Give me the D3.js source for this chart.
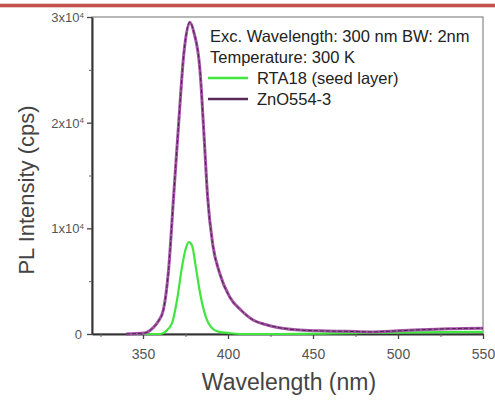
<!DOCTYPE html>
<html lang="en">
<head>
  <meta charset="UTF-8">
  <title>PL spectra</title>
  <script src="https://cdn.jsdelivr.net/npm/d3@7"></script>
  <style>
    body { margin: 0; background: #fff; }
    svg text { font-family: "Liberation Sans", Arial, sans-serif; }
  </style>
</head>
<body>
  <svg id="chart" width="495" height="400"></svg>
  <script>
    // wavelength (nm) and intensity (x10^4 cps)
    const znoWl  = [340, 351, 356, 359, 362, 365, 368, 371, 374, 377.5, 380, 383.5, 386, 388, 391, 395, 401, 408, 415, 422, 430, 440, 454, 470, 484, 500, 513, 530, 550];
    const znoVal = [0, 0.01, 0.06, 0.12, 0.23, 0.6, 1.3, 2.0, 2.65, 2.95, 2.85, 2.5, 1.85, 1.3, 0.85, 0.58, 0.35, 0.22, 0.13, 0.09, 0.06, 0.04, 0.03, 0.025, 0.02, 0.03, 0.04, 0.05, 0.055];
    const rtaWl  = [350, 360, 363, 367, 370, 373, 375, 377, 379, 381, 384, 387, 391, 395, 400, 407, 430, 480, 550];
    const rtaVal = [0, 0, 0.02, 0.1, 0.32, 0.64, 0.8, 0.87, 0.83, 0.64, 0.35, 0.16, 0.05, 0.02, 0.01, 0, 0, 0.01, 0.02];
    const xTicks = [350, 400, 450, 500, 550];
    const yTicks = [0, 1, 2, 3];
    const legendItems = [
      { label: "RTA18 (seed layer)", color: "#3ee63e" },
      { label: "ZnO554-3", color: "#5b2a5b" }
    ];
    const noteLines = ["Exc. Wavelength: 300 nm BW: 2nm", "Temperature: 300 K"];

    const svg = d3.select("#chart");
    const pLeft = 92, pRight = 483, pTop = 17, pBottom = 334;

    const x = d3.scaleLinear().domain([320, 550]).range([pLeft, pRight]);
    const y = d3.scaleLinear().domain([0, 3]).range([pBottom, pTop]);

    // red rule at top of page
    svg.append("rect").attr("x", 0).attr("y", 3).attr("width", 495).attr("height", 5).attr("fill", "#c4504c").attr("opacity", 0.3);
    svg.append("rect").attr("x", 0).attr("y", 4).attr("width", 495).attr("height", 3).attr("fill", "#c4504c");

    // frame
    svg.append("rect")
      .attr("x", pLeft).attr("y", pTop)
      .attr("width", pRight - pLeft).attr("height", pBottom - pTop)
      .attr("fill", "none").attr("stroke", "#888").attr("stroke-width", 1.2);

    // x axis
    const xAxis = d3.axisBottom(x).tickValues(xTicks).tickSize(5).tickSizeOuter(0).tickFormat(d => d);
    const gx = svg.append("g").attr("transform", `translate(0,${pBottom})`).call(xAxis);
    gx.select(".domain").attr("stroke", "#333").attr("stroke-width", 2);
    gx.selectAll(".tick line").attr("stroke", "#444").attr("stroke-width", 1.3);
    gx.selectAll(".tick text").attr("font-size", 14).attr("fill", "#555").attr("y", 12).attr("dy", "0.9em");
    const xMinor = d3.axisBottom(x).tickValues([325, 375, 425, 475, 525]).tickSize(3).tickFormat("");
    const gxm = svg.append("g").attr("transform", `translate(0,${pBottom})`).call(xMinor);
    gxm.select(".domain").remove();
    gxm.selectAll(".tick line").attr("stroke", "#666");

    // y axis
    const yAxis = d3.axisLeft(y).tickValues(yTicks).tickSize(5).tickSizeOuter(0).tickFormat("");
    const gy = svg.append("g").attr("transform", `translate(${pLeft},0)`).call(yAxis);
    gy.select(".domain").attr("stroke", "#333").attr("stroke-width", 2);
    gy.selectAll(".tick line").attr("stroke", "#444").attr("stroke-width", 1.3);
    gy.selectAll(".tick").each(function(d) {
      const t = d3.select(this).append("text")
        .attr("x", d === 0 ? -10 : -8).attr("dy", "0.35em")
        .attr("text-anchor", "end").attr("font-size", 13).attr("fill", "#555");
      if (d === 0) {
        t.text("0");
      } else {
        t.append("tspan").text(d + "x10");
        t.append("tspan").attr("dy", "-0.55em").attr("font-size", 8).text("4");
      }
    });
    const yMinor = d3.axisLeft(y).tickValues([0.5, 1.5, 2.5]).tickSize(3).tickFormat("");
    const gym = svg.append("g").attr("transform", `translate(${pLeft},0)`).call(yMinor);
    gym.select(".domain").remove();
    gym.selectAll(".tick line").attr("stroke", "#666");

    // axis titles
    svg.append("text")
      .attr("x", 289).attr("y", 390)
      .attr("text-anchor", "middle").attr("font-size", 23).attr("fill", "#444")
      .text("Wavelength (nm)");
    svg.append("text")
      .attr("transform", `translate(34,190) rotate(-90)`)
      .attr("text-anchor", "middle").attr("font-size", 22).attr("fill", "#444")
      .text("PL Intensity (cps)");

    // curves
    const line = d3.line().x(d => x(d[0])).y(d => y(d[1])).curve(d3.curveMonotoneX);
    const plot = svg.append("g");
    plot.append("path")
      .datum(rtaWl.map((w, i) => [w, rtaVal[i]]))
      .attr("d", line).attr("fill", "none")
      .attr("stroke", "#3ee63e").attr("stroke-width", 2.2);
    const znoData = znoWl.map((w, i) => [w, znoVal[i]]);
    plot.append("path")
      .datum(znoData)
      .attr("d", line).attr("fill", "none")
      .attr("stroke", "#a454a8").attr("stroke-width", 3);
    plot.append("path")
      .datum(znoData)
      .attr("d", line).attr("fill", "none")
      .attr("stroke", "#4a2448").attr("stroke-width", 1)
      .attr("stroke-dasharray", "4,2");

    // annotation + legend
    const note = svg.append("g").attr("transform", "translate(210,0)");
    note.selectAll("text.note")
      .data(noteLines).enter().append("text")
      .attr("class", "note")
      .attr("x", 0).attr("y", (d, i) => 42 + i * 21)
      .attr("font-size", 16.5).attr("fill", "#222")
      .text(d => d);
    const leg = note.selectAll("g.leg").data(legendItems).enter().append("g")
      .attr("class", "leg")
      .attr("transform", (d, i) => `translate(0,${78 + i * 21})`);
    leg.append("line").attr("x1", -2).attr("x2", 38).attr("y1", 0).attr("y2", 0)
      .attr("stroke", d => d.color).attr("stroke-width", 2.5);
    leg.append("text").attr("x", 47).attr("dy", "0.35em")
      .attr("font-size", 16.5).attr("fill", "#222").text(d => d.label);
  </script>
</body>
</html>
